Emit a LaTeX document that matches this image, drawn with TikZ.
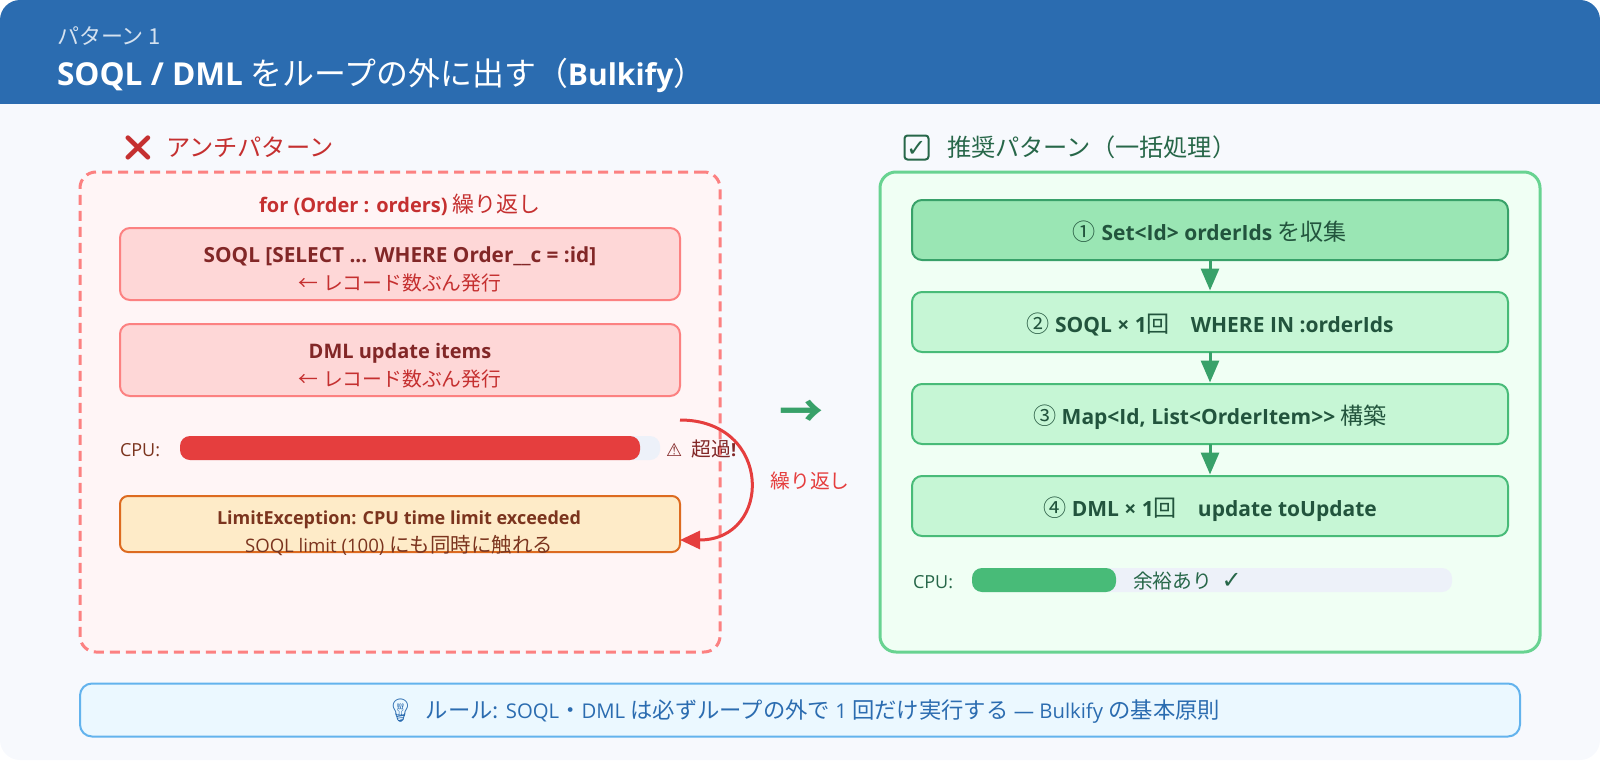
\documentclass[tikz,border=0pt]{standalone}
\usepackage{fontspec}
\usetikzlibrary{arrows.meta}
\setmainfont{Open Sans}
\newfontfamily\jpfont[Scale=1.1]{Noto Sans CJK JP}
\newfontfamily\iconfont{Noto Emoji}
\newfontfamily\symfont{DejaVu Sans}
\newcommand{\jp}[1]{{\jpfont\mdseries #1}}
\newcommand{\fsize}[1]{\fontsize{#1}{#1}\selectfont}
\newlength{\du}
\setlength{\du}{1pt}
\definecolor{pagebg}{HTML}{F7F9FD}
\definecolor{headblue}{HTML}{2B6CB0}
\definecolor{subwhite}{HTML}{D5E2F0}
\definecolor{badred}{HTML}{C53030}
\definecolor{baddark}{HTML}{822727}
\definecolor{badline}{HTML}{FC8181}
\definecolor{badpanel}{HTML}{FFF5F6}
\definecolor{badfill}{HTML}{FED7D7}
\definecolor{barred}{HTML}{E53E3E}
\definecolor{bartrack}{HTML}{EDF1F9}
\definecolor{warnfill}{HTML}{FEEBC8}
\definecolor{warnline}{HTML}{DD6B20}
\definecolor{warntext}{HTML}{7B341E}
\definecolor{goodtext}{HTML}{276749}
\definecolor{gooddark}{HTML}{22543D}
\definecolor{goodline}{HTML}{68D391}
\definecolor{goodpanel}{HTML}{F0FFF4}
\definecolor{goodfill}{HTML}{C6F6D5}
\definecolor{goodfirst}{HTML}{9AE6B4}
\definecolor{goodedge}{HTML}{48BB78}
\definecolor{goodarrow}{HTML}{38A169}
\definecolor{rulefill}{HTML}{EBF8FF}
\definecolor{ruleline}{HTML}{63B3ED}
\tikzset{
  panelbad/.style={draw=badline,fill=badpanel,line width=3\du,dash pattern=on 10\du off 6\du,rounded corners=16\du,minimum width=640\du,minimum height=480\du,inner sep=0pt,outer sep=0pt},
  panelgood/.style={draw=goodline,fill=goodpanel,line width=3\du,rounded corners=16\du,minimum width=660\du,minimum height=480\du,inner sep=0pt,outer sep=0pt},
  badbox/.style={draw=badline,fill=badfill,line width=2\du,rounded corners=10\du,minimum width=560\du,minimum height=72\du,inner sep=0pt,outer sep=0pt},
  warnbox/.style={draw=warnline,fill=warnfill,line width=2\du,rounded corners=8\du,minimum width=560\du,minimum height=56\du,inner sep=0pt,outer sep=0pt},
  stepbox/.style={draw=goodedge,fill=goodfill,line width=2\du,rounded corners=10\du,minimum width=596\du,minimum height=60\du,inner sep=0pt,outer sep=0pt},
  stepfirst/.style={stepbox,draw=goodarrow,fill=goodfirst},
  rulebox/.style={draw=ruleline,fill=rulefill,line width=2\du,rounded corners=12\du,minimum width=1440\du,minimum height=53\du,inner sep=0pt,outer sep=0pt},
  barnode/.style={rounded corners=10\du,minimum height=24\du,inner sep=0pt,outer sep=0pt,anchor=west},
  checkbox/.style={draw=goodtext,line width=2\du,rounded corners=3\du,minimum size=24\du,inner sep=0pt,outer sep=0pt},
  txt/.style={inner sep=0pt,outer sep=0pt,anchor=base},
  txtleft/.style={inner sep=0pt,outer sep=0pt,anchor=base west},
  steparrow/.style={draw=goodarrow,line width=3\du,shorten >=1.5\du,-{Triangle[length=22pt,width=18pt]}},
  looparrow/.style={draw=barred,line width=3\du,-{Triangle[length=20pt,width=18pt]}}
}
\begin{document}
\begin{tikzpicture}
\pgftransformxscale{1.000000}
\pgftransformyscale{-1.000000}
\useasboundingbox (0\du,0\du) rectangle (1600\du,760\du);
% page and header
\fill[pagebg,rounded corners=20\du] (0\du,0\du) rectangle (1600\du,760\du);
\fill[headblue,rounded corners=20\du] (0\du,60\du) rectangle (1600\du,0\du);
\fill[headblue] (0\du,30\du) rectangle (1600\du,104\du);
\node[txtleft,text=subwhite,font=\fsize{20}] (subtitle) at (57\du,45\du){\jp{パターン 1}};
\node[txtleft,text=white,font=\fsize{30}\bfseries] (title) at (57\du,85\du){{\fsize{31.6}SOQL / DML} {\fsize{29}\jp{をループの外に出す（}}Bulkify{\fsize{29}\jp{）}}};
% left side
\node[txtleft,text=badred,font=\fsize{25}] (badicon) at (122\du,156\du){\iconfont ❌};
\node[txtleft,text=badred,font=\fsize{22}] (badhead) at (166\du,156\du){\jp{アンチパターン}};
\node[panelbad] (badpanel) at (400\du,412\du){};
\node[txt,text=badred,font=\fsize{20}\bfseries] (forlabel) at (400\du,212\du){for (Order : orders) \jp{繰り返し}};
\node[badbox] (soqlbox) at (400\du,264\du){};
\node[txt,text=baddark,font=\fsize{20.8}\bfseries] (soqltext) at (400\du,262\du){SOQL [SELECT ... WHERE Order\_\_c = :id]};
\node[txt,text=badred,font=\fsize{18}] (soqlnote) at (400\du,290\du){\jp{← レコード数ぶん発行}};
\node[badbox] (dmlbox) at (400\du,360\du){};
\node[txt,text=baddark,font=\fsize{20}\bfseries] (dmltext) at (400\du,358\du){DML update items};
\node[txt,text=badred,font=\fsize{18}] (dmlnote) at (400\du,386\du){\jp{← レコード数ぶん発行}};
\node[txtleft,text=warntext,font=\fsize{18}] (badcpu) at (120\du,456\du){CPU:};
\node[barnode,fill=bartrack,minimum width=480\du] (badtrack) at (180\du,448\du){};
\node[barnode,fill=barred,minimum width=460\du] (badbar) at (180\du,448\du){};
\node[txtleft,text=baddark,font=\fsize{18}] (overtext) at (666\du,456\du){{\symfont ⚠}\ \ \jp{超過}\textbf{!}};
\node[warnbox] (limitbox) at (400\du,524\du){};
\node[txt,text=warntext,font=\fsize{18}\bfseries] (limittext) at (399\du,524\du){LimitException: CPU time limit exceeded};
\node[txt,text=warntext,font=\fsize{18.6}] (limitnote) at (399\du,552\du){SOQL limit (100) \jp{にも同時に触れる}};
\coordinate (loopbegin) at (680\du,420\du);
\coordinate (loopend) at (680\du,540\du);
\draw[looparrow] (loopbegin) .. controls (773\du,420\du) and (773\du,540\du) .. (loopend);
\node[txt,text=barred,font=\fsize{18}] (looplabel) at (810\du,488\du){\jp{繰り返し}};
% middle arrow
\node[txt,text=goodarrow,font=\fsize{40}] (midarrow) at (801\du,427\du){{\jpfont\bfseries →}};
% right side
\node[checkbox] (goodicon) at (916.5\du,147.5\du){};
\node[txt,text=goodtext,font=\fsize{24}] (goodcheck) at (916.5\du,156\du){\symfont ✓};
\node[txtleft,text=goodtext,font=\fsize{22}] (goodhead) at (947\du,156\du){\jp{推奨パターン（一括処理）}};
\node[panelgood] (goodpanel) at (1210\du,412\du){};
\node[stepfirst] (stepone) at (1210\du,230\du){};
\node[stepbox] (steptwo) at (1210\du,322\du){};
\node[stepbox] (stepthree) at (1210\du,414\du){};
\node[stepbox] (stepfour) at (1210\du,506\du){};
\node[txt,text=gooddark,font=\fsize{21}\bfseries] (onetext) at (1210\du,240\du){\jp{①} Set<Id> orderIds \jp{を収集}};
\node[txt,text=gooddark,font=\fsize{21}\bfseries] (twotext) at (1210\du,332\du){\jp{②} SOQL × 1\jp{回}\quad WHERE IN :orderIds};
\node[txt,text=gooddark,font=\fsize{21}\bfseries] (threetext) at (1210\du,424\du){\jp{③} Map<Id, List<OrderItem>{}> \jp{構築}};
\node[txt,text=gooddark,font=\fsize{21}\bfseries] (fourtext) at (1210\du,516\du){\jp{④} DML × 1\jp{回}\quad update toUpdate};
\draw[steparrow] (stepone) -- (steptwo);
\draw[steparrow] (steptwo) -- (stepthree);
\draw[steparrow] (stepthree) -- (stepfour);
\node[txtleft,text=goodtext,font=\fsize{18}] (goodcpu) at (913\du,588\du){CPU:};
\node[barnode,fill=bartrack,minimum width=480\du] (goodtrack) at (972\du,580\du){};
\node[barnode,fill=goodedge,minimum width=144\du] (goodbar) at (972\du,580\du){};
\node[txtleft,text=goodtext,font=\fsize{18}] (roomtext) at (1133\du,588\du){\jp{余裕あり}\ \ {\fsize{24}\symfont ✓}};
% rule
\node[rulebox] (rule) at (800\du,710\du){};
\node[txt,text=headblue,font=\fsize{20.3}] (ruletext) at (803\du,718\du){{\fsize{23}\iconfont 💡}\ \ \jp{ルール:} SOQL\jp{・}DML \jp{は必ずループの外で} 1 \jp{回だけ実行する} — Bulkify \jp{の基本原則}};
\end{tikzpicture}
\end{document}
